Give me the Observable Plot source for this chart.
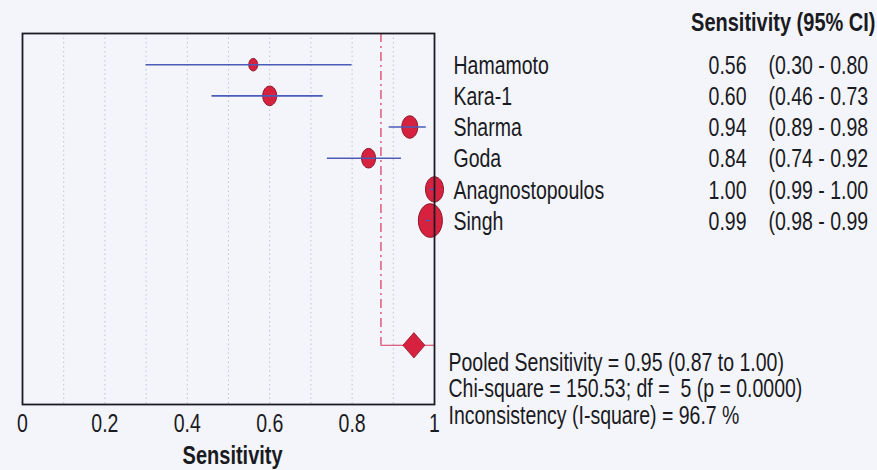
<!DOCTYPE html>
<html>
<head>
<meta charset="utf-8">
<script src="https://cdn.jsdelivr.net/npm/d3@7"></script>
<script src="https://cdn.jsdelivr.net/npm/@observablehq/plot@0.6"></script>
<style>
  html, body { margin: 0; padding: 0; background: #f3f5fa; }
  #chart svg { display: block; }
</style>
</head>
<body>
<div id="chart"></div>
<script>
// ---- data ----
const studies = ["Hamamoto", "Kara-1", "Sharma", "Goda", "Anagnostopoulos", "Singh"];
const sensitivity = [0.56, 0.60, 0.94, 0.84, 1.00, 0.99];
const ciLow = [0.30, 0.46, 0.89, 0.74, 0.99, 0.98];
const ciHigh = [0.80, 0.73, 0.98, 0.92, 1.00, 0.99];
const weights = [4.9, 12.0, 15.7, 12.0, 19.9, 35.4];
const sensLabels = ["0.56", "0.60", "0.94", "0.84", "1.00", "0.99"];
const ciLabels = ["(0.30 - 0.80", "(0.46 - 0.73", "(0.89 - 0.98", "(0.74 - 0.92", "(0.99 - 1.00", "(0.98 - 0.99"];
const pooled = {est: 0.95, low: 0.87, high: 1.00};
const xTicks = [0, 0.2, 0.4, 0.6, 0.8, 1];
const xTickLabels = ["0", "0.2", "0.4", "0.6", "0.8", "1"];
const gridTicks = [0.1, 0.2, 0.3, 0.4, 0.5, 0.6, 0.7, 0.8, 0.9];
const headerText = "Sensitivity (95% CI)";
const statLines = [
  "Pooled Sensitivity = 0.95 (0.87 to 1.00)",
  "Chi-square = 150.53; df =  5 (p = 0.0000)",
  "Inconsistency (I-square) = 96.7 %"
];
const xLabel = "Sensitivity";

const rows = studies.map((s, i) => ({
  study: s, row: i, est: sensitivity[i], lo: ciLow[i], hi: ciHigh[i],
  w: weights[i], sl: sensLabels[i], cl: ciLabels[i]
}));
const pooledRow = 9;

// ellipse symbol (photo is stretched vertically)
function ellipseSymbol(ratio) {
  return {
    draw(ctx, size) {
      const rx = Math.sqrt(size / Math.PI), ry = rx * ratio, k = 0.5523;
      ctx.moveTo(rx, 0);
      ctx.bezierCurveTo(rx, ry * k, rx * k, ry, 0, ry);
      ctx.bezierCurveTo(-rx * k, ry, -rx, ry * k, -rx, 0);
      ctx.bezierCurveTo(-rx, -ry * k, -rx * k, -ry, 0, -ry);
      ctx.bezierCurveTo(rx * k, -ry, rx, -ry * k, rx, 0);
      ctx.closePath();
    }
  };
}
function diamondSymbol(ratio) {
  return {
    draw(ctx, size) {
      const rx = Math.sqrt(size / Math.PI), ry = rx * ratio;
      ctx.moveTo(0, -ry); ctx.lineTo(rx, 0); ctx.lineTo(0, ry); ctx.lineTo(-rx, 0);
      ctx.closePath();
    }
  };
}

const FONT = "'Liberation Sans', Arial, sans-serif";
const red = "#d6223f", redStroke = "#8a1628", blue = "#4a5cb8", ink = "#1a1a22";
const statOffsets = [-34, -8, 19];

const chart = Plot.plot({
  width: 877,
  height: 470,
  marginLeft: 22,
  marginRight: 443,
  marginTop: 33,
  marginBottom: 66,
  style: {background: "#f3f5fa", fontFamily: FONT, overflow: "visible"},
  x: {domain: [0, 1], axis: null},
  y: {domain: [-1, 10.9], axis: null, reverse: true},
  r: {domain: [0, 35.4], range: [0, 12]},
  marks: [
    // dotted grid
    Plot.ruleX(gridTicks, {stroke: "#c6bfcb", strokeDasharray: "1.5,3", strokeWidth: 1}),
    // pooled reference dash-dot line
    Plot.ruleX([pooled], {x: "low", y1: -1, y2: pooledRow, stroke: "#d8345a", strokeWidth: 1.2, strokeDasharray: "9,4,2,4"}),
    Plot.ruleY([pooled], {y: pooledRow, x1: "low", x2: "high", stroke: "#d8345a", strokeWidth: 1.2}),
    Plot.dot([pooled], {x: "est", y: pooledRow, r: 11, symbol: diamondSymbol(1.15), fill: red, stroke: redStroke, strokeWidth: 0.8}),
    // study estimates
    Plot.dot(rows, {x: "est", y: "row", r: "w", symbol: ellipseSymbol(1.4), fill: red, stroke: redStroke, strokeWidth: 1}),
    Plot.ruleY(rows, {y: "row", x1: "lo", x2: "hi", stroke: blue, strokeWidth: 1.6}),
    // frame
    Plot.frame({stroke: "#1c1c24", strokeWidth: 1.8}),
    // x tick labels
    Plot.text(xTicks, {x: d => d, frameAnchor: "bottom", text: (d, i) => xTickLabels[i], dy: 27, fontSize: 19.5, fill: ink}),
    Plot.text([xLabel], {x: 0.51, frameAnchor: "bottom", text: d => d, dy: 59, fontSize: 20, fontWeight: "bold", fill: ink}),
    // right side table
    Plot.text([headerText], {x: 1, frameAnchor: "top", text: d => d, dx: 441, dy: -21, textAnchor: "end", fontSize: 20, fontWeight: "bold", fill: ink}),
    Plot.text(rows, {x: 1, y: "row", text: "study", dx: 19, dy: 1, textAnchor: "start", fontSize: 19.5, fill: ink}),
    Plot.text(rows, {x: 1, y: "row", text: "sl", dx: 312, dy: 1, textAnchor: "end", fontSize: 19.5, fill: ink}),
    Plot.text(rows, {x: 1, y: "row", text: "cl", dx: 334, dy: 1, textAnchor: "start", fontSize: 19.5, fill: ink}),
    // stats
    ...statLines.map((line, i) =>
      Plot.text([line], {x: 1, frameAnchor: "bottom", text: d => d, dx: 14, dy: statOffsets[i], textAnchor: "start", fontSize: 19.5, fill: ink}))
  ]
});

// the photographed reference is stretched vertically: stretch texts the same way
d3.select(chart).selectAll("text").each(function() {
  const t = this.getAttribute("transform");
  if (t) this.setAttribute("transform", t + " scale(1,1.3)");
});

document.getElementById("chart").append(chart);
</script>
</body>
</html>
